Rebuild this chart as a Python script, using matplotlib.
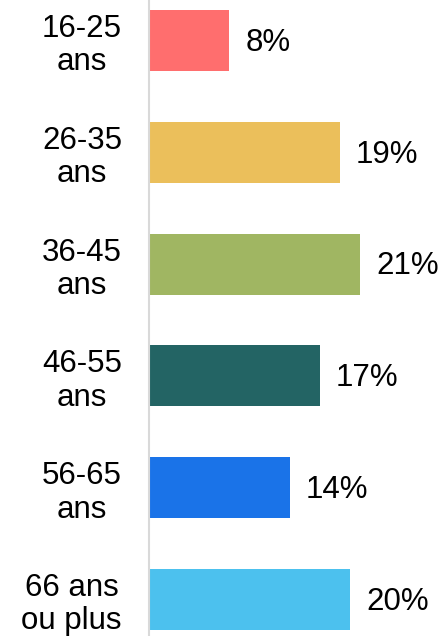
import matplotlib.pyplot as plt

plt.rcParams['font.family'] = ['Liberation Sans', 'DejaVu Sans']

categories = ["16-25\nans", "26-35\nans", "36-45\nans", "46-55\nans", "56-65\nans", "66 ans\nou plus"]
values = [8, 19, 21, 17, 14, 20]
colors = ["#FF6E6E", "#EBBF5B", "#A0B662", "#236464", "#1A73E8", "#4CC1EE"]

fig = plt.figure(figsize=(4.41, 6.36), dpi=100)
ax = fig.add_axes([149 / 441, 0, 1 - 149 / 441, 1])

y = list(range(len(categories)))
ax.barh(y, values, height=0.545, color=colors)

ax.set_xlim(0, (441 - 149) / 10.05)
ax.set_ylim((636 - 40.5) / 111.8, -40.5 / 111.8)

for yi, v in zip(y, values):
    ax.text(v + 1.6, yi + 0.02, f"{v}%", va="center", ha="left", fontsize=22.5)

ax.set_yticks(y)
ax.set_yticklabels(categories, fontsize=22.5, multialignment="center", linespacing=1.15)
ax.tick_params(axis="y", length=0, pad=19.5)
ax.set_xticks([])

for side in ["top", "right", "bottom"]:
    ax.spines[side].set_visible(False)
ax.spines["left"].set_color("#D9D9D9")
ax.spines["left"].set_linewidth(1.5)

fig.savefig("out.png", dpi=100)
